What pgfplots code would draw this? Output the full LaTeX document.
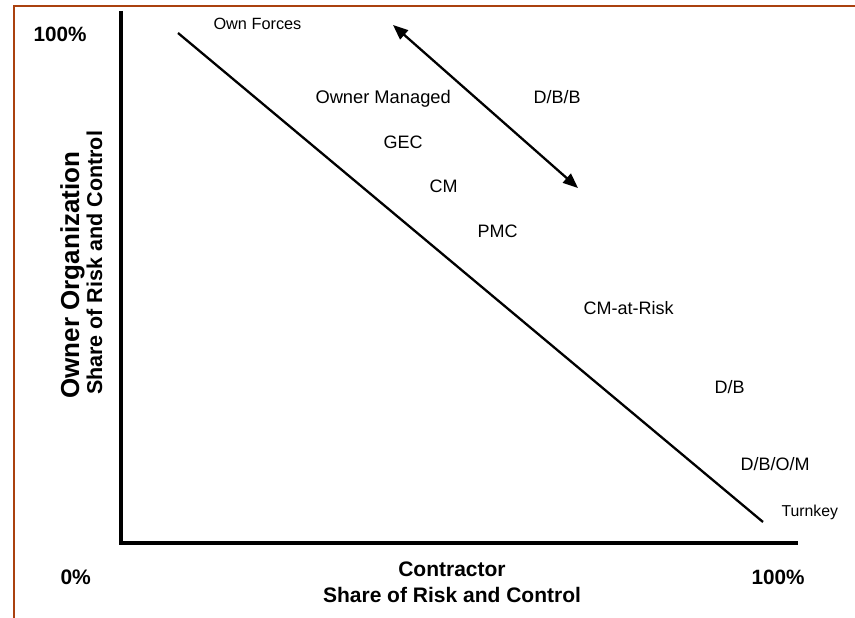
\documentclass[border=0pt]{standalone}
\usepackage{pgfplots}
\pgfplotsset{compat=1.18}
\usepackage{fontspec}
\setmainfont{Liberation Sans}
\usetikzlibrary{arrows.meta}
\definecolor{frame}{RGB}{170,65,15}
\newcommand{\fs}[1]{\fontsize{#1}{#1}\selectfont}
\begin{document}
\begin{tikzpicture}
\path[use as bounding box] (0,0) rectangle (855pt,618pt);
\begin{axis}[
  at={(0pt,0pt)}, anchor=south west,
  scale only axis, width=855pt, height=618pt,
  xmin=0, xmax=855, ymin=0, ymax=618,
  hide axis, clip=true,
  every node/.style={inner sep=0pt, outer sep=0pt, text=black},
]
% frame
\addplot[color=frame, line width=2.6pt, line join=miter] coordinates {(14,-5) (14,612) (860,612)};
% axes
\addplot[black, line width=3.6pt, line join=miter] coordinates {(121,607) (121,75) (798,75)};
% diagonal
\addplot[black, line width=2.3pt] coordinates {(178,585) (763,96)};
% double arrow
\addplot[black, line width=2.3pt, {Triangle[length=15pt,width=12pt]}-{Triangle[length=15pt,width=12pt]}] coordinates {(393,593) (578,430)};

\node[anchor=base west, font=\fs{16.3}] at (axis cs:210,588) {Own Forces};
\node[anchor=base west, font=\fs{18.3}] at (axis cs:312,514) {Owner Managed};
\node[anchor=base west, font=\fs{18}] at (axis cs:530,514) {D/B/B};
\node[anchor=base west, font=\fs{18}] at (axis cs:380,469) {GEC};
\node[anchor=base west, font=\fs{18}] at (axis cs:426,425) {CM};
\node[anchor=base west, font=\fs{18}] at (axis cs:474,380) {PMC};
\node[anchor=base west, font=\fs{18}] at (axis cs:580,303) {CM-at-Risk};
\node[anchor=base west, font=\fs{18}] at (axis cs:711,224) {D/B};
\node[anchor=base west, font=\fs{18}] at (axis cs:737,147) {D/B/O/M};
\node[anchor=base west, font=\fs{15.8}] at (axis cs:778,101) {Turnkey};

\node[anchor=base west, font=\fs{20.7}\bfseries] at (axis cs:30,576) {100\%};
\node[anchor=base west, font=\fs{21}\bfseries] at (axis cs:57,33) {0\%};
\node[anchor=base west, font=\fs{20.7}\bfseries] at (axis cs:748,33) {100\%};
\node[anchor=base, font=\fs{21}\bfseries] at (axis cs:452,41) {Contractor};
\node[anchor=base, font=\fs{21}\bfseries] at (axis cs:452,15) {Share of Risk and Control};
\node[anchor=base, rotate=90, font=\fs{26}\bfseries] at (axis cs:79,343) {Owner Organization};
\node[anchor=base, rotate=90, font=\fs{21.5}\bfseries] at (axis cs:102,355) {Share of Risk and Control};
\end{axis}
\end{tikzpicture}
\end{document}
